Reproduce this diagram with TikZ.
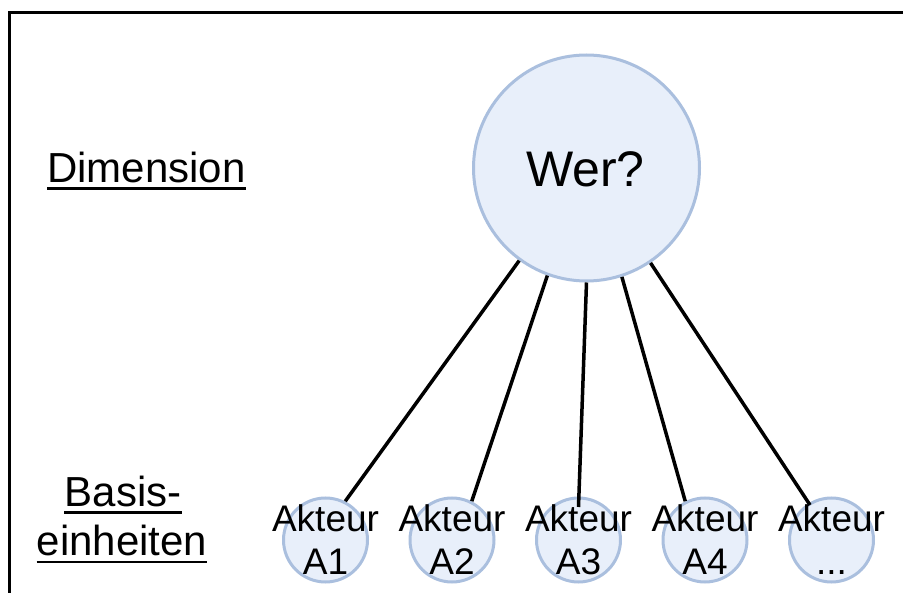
\documentclass[tikz,border=0pt]{standalone}
\usepackage{fontspec}
\setmainfont{Liberation Sans}
\usetikzlibrary{calc}
\definecolor{cborder}{HTML}{AABFDE}
\definecolor{cfill}{HTML}{E8EFFA}
\begin{document}
\begin{tikzpicture}[x=1pt,y=-1pt,
  bigcirc/.style={circle,draw=cborder,fill=cfill,line width=3pt,minimum size=226pt,inner sep=0pt},
  smallcirc/.style={circle,draw=cborder,fill=cfill,line width=3pt,minimum size=84pt,inner sep=0pt},
  akt/.style={align=center,inner sep=0pt,font=\fontsize{37}{43}\selectfont},
  side/.style={inner sep=0pt,anchor=base,font=\fontsize{42}{48}\selectfont},
  conn/.style={line width=3.5pt,black},
  uline/.style={line width=2.8pt,black}]
\useasboundingbox (0,0) rectangle (903,593);
% frame
\draw[line width=3pt] (9.5,593) -- (9.5,13) -- (903,13);
% big circle
\node[bigcirc] (wer) at (586.5,168) {};
\node[inner sep=0pt,font=\fontsize{50}{56}\selectfont] (wert) at (585.5,169) {Wer?};
% small circles
\node[smallcirc] (A1) at (325.5,540) {};
\node[smallcirc] (A2) at (452,540) {};
\node[smallcirc] (A3) at (578.5,540) {};
\node[smallcirc] (A4) at (705,540) {};
\node[smallcirc] (A5) at (831.5,540) {};
% connectors
\draw[conn] (wer.234) -- (A1.63);
\draw[conn] (wer.250.5) -- (A2.63);
\draw[conn] (wer.270) -- ($(A3.center)+(0,-33)$);
\draw[conn] (wer.288) -- (A4.117);
\draw[conn] (wer.304) -- ($(A5.center)+(-21.5,-35)$);
% actor labels
\node[akt] (t1) at (A1.center) {Akteur\\A1};
\node[akt] (t2) at (A2.center) {Akteur\\A2};
\node[akt] (t3) at (A3.center) {Akteur\\A3};
\node[akt] (t4) at (A4.center) {Akteur\\A4};
\node[akt] (t5) at (A5.center) {Akteur\\...};
% side labels
\node[side,anchor=base west] (dim) at (47,183) {Dimension};
\draw[uline] ($(dim.base west)+(0,5.5)$) -- ($(dim.base east)+(0,5.5)$);
\node[side] (bas) at (123,507) {Basis-};
\draw[uline] ($(bas.base west)+(0,5.5)$) -- ($(bas.base east)+(0,5.5)$);
\node[side] (ein) at (122,556) {einheiten};
\draw[uline] ($(ein.base west)+(0,6)$) -- ($(ein.base east)+(0,6)$);
\end{tikzpicture}
\end{document}
